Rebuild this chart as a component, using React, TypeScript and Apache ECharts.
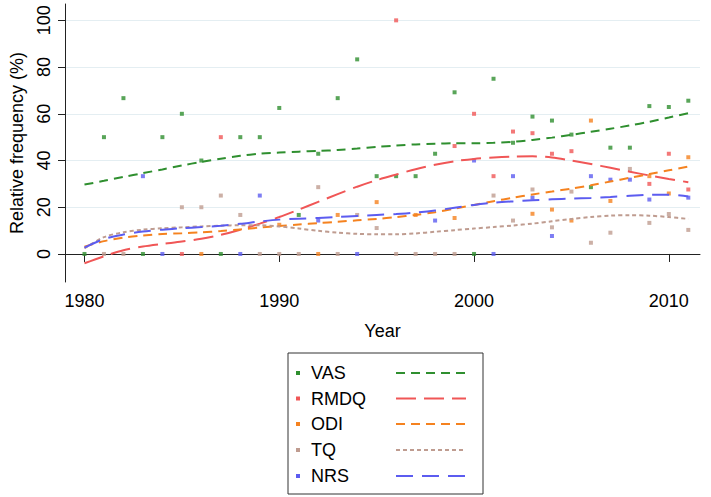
import React, { useEffect, useRef } from "react";
import * as echarts from "echarts";

const seriesNames = ["VAS", "RMDQ", "ODI", "TQ", "NRS"];
const seriesColors = ["#2f8f2f", "#f05656", "#f5821f", "#bf9c90", "#5c5cf0"];
const dashPatterns: number[][] = [[9, 6], [20, 8], [9, 6], [4, 3], [17, 9]];

const xTicks = [1980, 1990, 2000, 2010];
const yTicks = [0, 20, 40, 60, 80, 100];

// observed relative frequencies [year, %]
const vasPoints: [number, number][] = [
  [1980, 0], [1981, 50], [1982, 66.7], [1983, 0], [1984, 50], [1985, 60], [1986, 40], [1987, 0],
  [1988, 50], [1989, 50], [1990, 62.5], [1991, 16.7], [1992, 42.9], [1993, 66.7], [1994, 83.3],
  [1995, 33.3], [1996, 33.3], [1997, 33.3], [1998, 42.9], [1999, 69.2], [2000, 0], [2001, 75],
  [2002, 47.6], [2003, 58.8], [2004, 57.1], [2005, 51.1], [2006, 28.6], [2007, 45.5], [2008, 45.5],
  [2009, 63.3], [2010, 62.9], [2011, 65.6],
];
const rmdqPoints: [number, number][] = [
  [1985, 0], [1987, 50], [1996, 100], [1999, 46.2], [2000, 60], [2001, 33.3], [2002, 52.4],
  [2003, 51.7], [2004, 42.9], [2005, 44], [2009, 30], [2010, 42.9], [2011, 27.6],
];
const odiPoints: [number, number][] = [
  [1986, 0], [1990, 12.5], [1992, 0], [1993, 16.7], [1995, 22.2], [1997, 16.7], [1999, 15.4],
  [2003, 17.2], [2004, 19], [2005, 14.3], [2006, 57.1], [2007, 22.7], [2009, 33.3], [2010, 25.9],
  [2011, 41.4],
];
const tqPoints: [number, number][] = [
  [1981, 0], [1982, 0], [1985, 20], [1986, 20], [1987, 25], [1988, 16.7], [1989, 0], [1990, 0],
  [1991, 0], [1992, 28.6], [1993, 0], [1994, 16.7], [1995, 11.1], [1996, 0], [1997, 0], [1998, 0],
  [1999, 0], [2001, 25], [2002, 14.3], [2003, 27.6], [2004, 11.4], [2005, 26.7], [2006, 4.8],
  [2007, 9.1], [2008, 36.4], [2009, 13.3], [2010, 17.1], [2011, 10.3],
];
const nrsPoints: [number, number][] = [
  [1983, 33.3], [1984, 0], [1988, 0], [1989, 25], [1992, 14.3], [1994, 0], [1998, 14.3],
  [2000, 40], [2001, 0], [2002, 33.3], [2003, 24.1], [2004, 7.7], [2006, 33.3], [2007, 31.8],
  [2008, 31.8], [2009, 23.3], [2011, 24.1],
];

// smoothed fits, one value per year 1980..2011
const fitYears = [
  1980, 1981, 1982, 1983, 1984, 1985, 1986, 1987, 1988, 1989, 1990, 1991, 1992, 1993, 1994, 1995,
  1996, 1997, 1998, 1999, 2000, 2001, 2002, 2003, 2004, 2005, 2006, 2007, 2008, 2009, 2010, 2011,
];
const vasFit = [
  29.7, 31.3, 33, 34.6, 36.2, 37.9, 39.4, 40.8, 42, 42.9, 43.4, 43.8, 44.1, 44.5, 45.1, 45.8,
  46.4, 46.9, 47.2, 47.4, 47.4, 47.6, 48, 48.8, 49.8, 51, 52.3, 53.6, 55, 56.6, 58.4, 60.3,
];
const rmdqFit = [
  -4, -1, 1.6, 3.2, 4.3, 5.3, 6.5, 8.2, 10.4, 13, 15.8, 19, 22.3, 25.6, 28.8, 31.6,
  34, 36.3, 38.2, 39.7, 40.7, 41.3, 41.7, 41.8, 41.3, 40, 38.5, 36.9, 35.2, 33.6, 32.1, 30.7,
];
const odiFit = [
  3.1, 5.5, 7, 7.9, 8.5, 8.9, 9.3, 9.8, 10.5, 11.3, 12, 12.6, 13.2, 13.8, 14.4, 15,
  15.8, 16.7, 17.9, 19.4, 21, 22.6, 24.1, 25.5, 26.7, 28, 29.4, 31, 32.6, 34.2, 35.8, 37.4,
];
const tqFit = [
  2.4, 7.2, 9.3, 10.4, 11, 11.4, 11.8, 12.1, 12.3, 12.3, 11.8, 10.9, 9.9, 9.1, 8.6, 8.4,
  8.4, 8.8, 9.5, 10.2, 10.9, 11.5, 12.2, 13, 14, 15, 15.8, 16.4, 16.6, 16.4, 15.8, 15,
];
const nrsFit = [
  2.7, 6.4, 8.3, 9.6, 10.4, 11, 11.5, 12.1, 12.9, 13.9, 14.7, 15.1, 15.4, 15.8, 16.3, 16.7,
  17.1, 17.7, 18.6, 19.8, 21, 21.9, 22.5, 23, 23.4, 23.7, 24, 24.4, 24.9, 25.3, 25.4, 24.6,
];

const allPoints = [vasPoints, rmdqPoints, odiPoints, tqPoints, nrsPoints];
const allFits = [vasFit, rmdqFit, odiFit, tqFit, nrsFit];

const FONT = "'Liberation Sans', Arial, Helvetica, sans-serif";

export default function App() {
  const ref = useRef<HTMLDivElement>(null);
  useEffect(() => {
    if (!ref.current) return;
    const chart = echarts.init(ref.current, undefined, { renderer: "svg" });

    const scatterSeries = allPoints.map((pts, i) => ({
      type: "scatter",
      name: seriesNames[i] + " obs",
      data: pts,
      symbol: "rect",
      symbolSize: 4,
      itemStyle: { color: seriesColors[i] },
      z: 2,
    }));
    const lineSeries = allFits.map((vals, i) => ({
      type: "line",
      name: seriesNames[i],
      data: fitYears.map((y, k) => [y, vals[k]]),
      smooth: 0.3,
      showSymbol: false,
      lineStyle: { color: seriesColors[i], width: 2, type: dashPatterns[i] },
      z: 3,
    }));

    const legendTop = 353;
    const rowY = [373, 398.5, 424, 450, 476];
    const legendGraphics: any[] = [
      {
        type: "rect",
        shape: { x: 288, y: legendTop, width: 195, height: 141 },
        style: { fill: "#fff", stroke: "#333", lineWidth: 1 },
      },
    ];
    seriesNames.forEach((n, i) => {
      legendGraphics.push({
        type: "rect",
        shape: { x: 296, y: rowY[i] - 2, width: 4, height: 4 },
        style: { fill: seriesColors[i] },
      });
      legendGraphics.push({
        type: "text",
        x: 311,
        y: rowY[i],
        style: { text: n, font: `18px ${FONT}`, fill: "#000", verticalAlign: "middle" },
      });
      legendGraphics.push({
        type: "line",
        shape: { x1: 396, y1: rowY[i], x2: 466, y2: rowY[i] },
        style: { stroke: seriesColors[i], lineWidth: 2, lineDash: dashPatterns[i] },
      });
    });

    chart.setOption({
      animation: false,
      backgroundColor: "#fff",
      textStyle: { fontFamily: FONT },
      grid: { left: 64, right: 11, top: 4, bottom: 215, containLabel: false },
      xAxis: {
        type: "value",
        min: 1979,
        max: 2011.6,
        name: "Year",
        nameLocation: "middle",
        nameGap: 40,
        nameTextStyle: { fontSize: 18, color: "#000", fontFamily: FONT },
        axisLine: { show: true, lineStyle: { color: "#222", width: 1 } },
        axisTick: { show: true, length: 8, lineStyle: { color: "#222" }, customValues: xTicks },
        axisLabel: {
          fontSize: 18,
          color: "#000",
          margin: 10,
          customValues: xTicks,
          fontFamily: FONT,
          formatter: (v: number) => String(v),
        },
        splitLine: { show: false },
      },
      yAxis: {
        type: "value",
        min: -12,
        max: 107,
        name: "Relative frequency (%)",
        nameLocation: "middle",
        nameGap: 39,
        nameTextStyle: { fontSize: 18, color: "#000", fontFamily: FONT },
        axisLine: { show: true, lineStyle: { color: "#222", width: 1 } },
        axisTick: { show: true, length: 7, lineStyle: { color: "#222" }, customValues: yTicks },
        axisLabel: {
          fontSize: 18,
          color: "#000",
          rotate: 90,
          margin: 12,
          customValues: yTicks,
          fontFamily: FONT,
          formatter: (v: number) => String(v),
        },
        splitLine: { show: true, lineStyle: { color: "#e4eef2", width: 1 } },
      },
      series: [...scatterSeries, ...lineSeries],
      graphic: legendGraphics,
    });
    return () => chart.dispose();
  }, []);
  return (
    <div
      ref={ref}
      style={{ position: "fixed", left: 0, top: 0, width: 711, height: 497 }}
    />
  );
}
